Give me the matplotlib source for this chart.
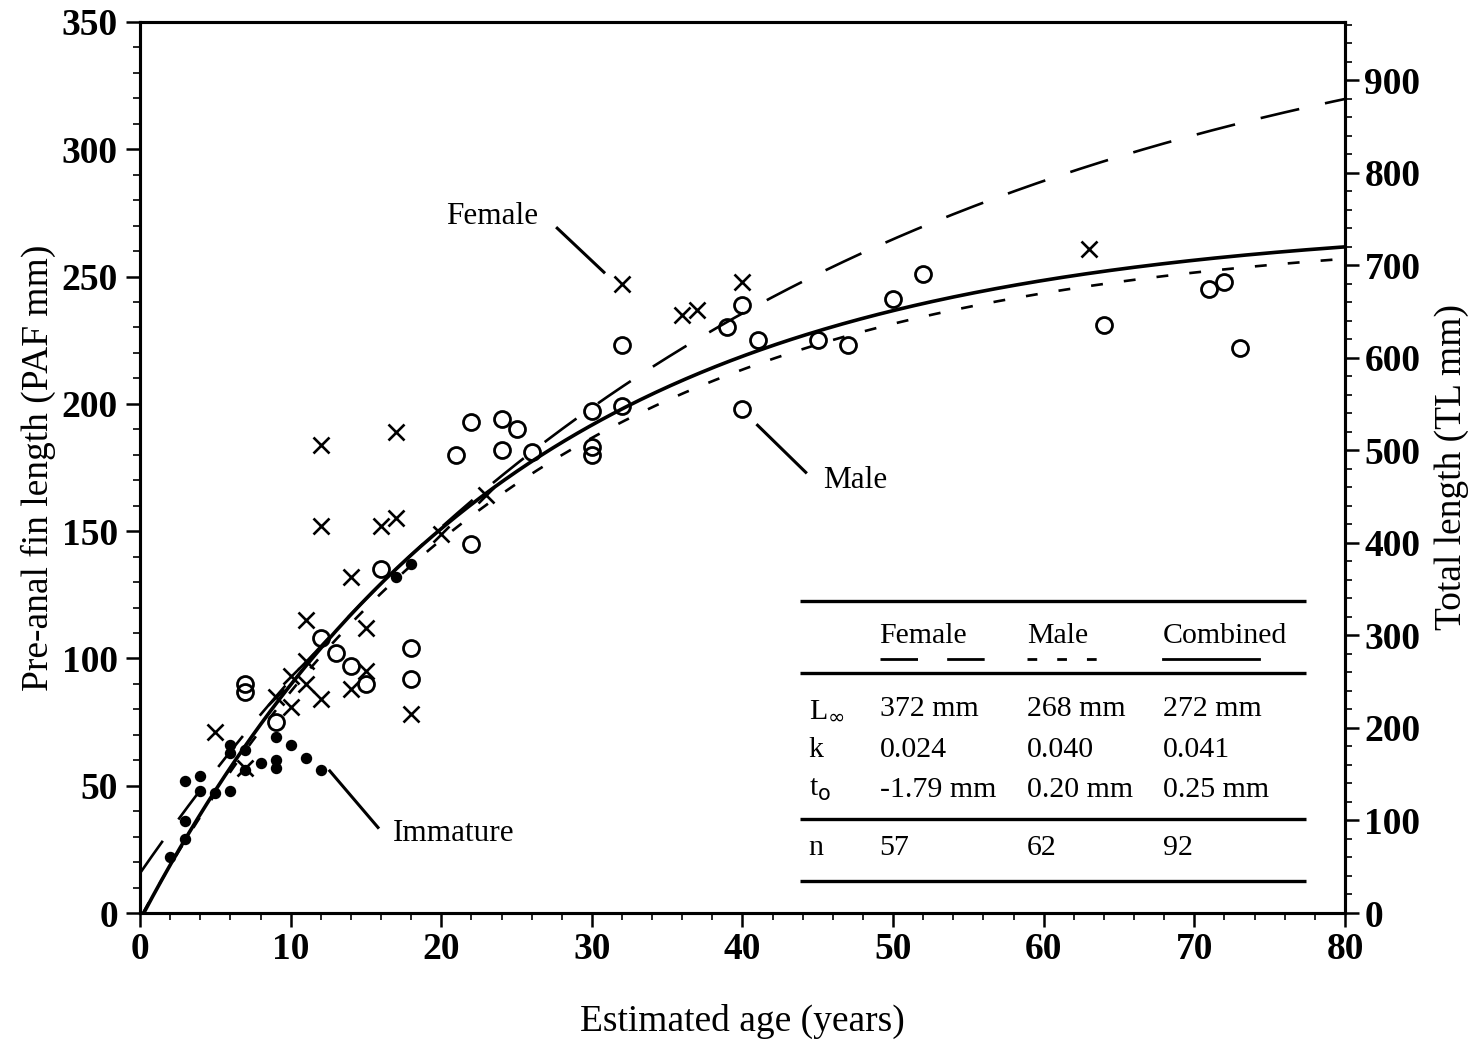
import numpy as np
import matplotlib
matplotlib.use("Agg")
import matplotlib.pyplot as plt
from matplotlib.ticker import MultipleLocator

plt.rcParams['font.family'] = ['Liberation Serif', 'DejaVu Serif']

# ---- data ----
female_age = [5, 7, 9, 10, 10, 11, 11, 11, 12, 12, 12, 14, 14, 15, 15, 16, 17, 17, 18, 20, 23, 32, 36, 37, 40, 63]
female_paf = [71, 57, 85, 93, 81, 99, 115, 90, 84, 184, 152, 132, 88, 112, 95, 152, 155, 189, 78, 149, 164, 247, 235, 237, 248, 261]

male_age = [7, 7, 9, 12, 13, 14, 15, 16, 18, 18, 21, 22, 22, 24, 24, 25, 26, 30, 30, 30, 32, 32,
            39, 40, 40, 41, 45, 47, 50, 52, 64, 71, 72, 73]
male_paf = [90, 87, 75, 108, 102, 97, 90, 135, 104, 92, 180, 193, 145, 194, 182, 190, 181, 197, 183, 180, 199, 223,
            230, 239, 198, 225, 225, 223, 241, 251, 231, 245, 248, 222]

imm_age = [2, 3, 3, 3, 4, 4, 5, 6, 6, 6, 7, 7, 8, 9, 9, 9, 10, 11, 12, 17, 18]
imm_paf = [22, 29, 36, 52, 54, 48, 47, 48, 66, 63, 64, 56, 59, 60, 57, 69, 66, 61, 56, 132, 137]

# von Bertalanffy parameters (from the table)
groups = ["Female", "Male", "Combined"]
L_inf = [372, 268, 272]
k_val = [0.024, 0.040, 0.041]
t0_val = [-1.79, 0.20, 0.25]
n_val = [57, 62, 92]
L_txt = ["372 mm", "268 mm", "272 mm"]
k_txt = ["0.024", "0.040", "0.041"]
t0_txt = ["-1.79 mm", "0.20 mm", "0.25 mm"]

TL_PER_PAF = 2.752

fig = plt.figure(figsize=(14.77, 10.42), dpi=100)
ax = fig.add_axes([0.0948, 0.1238, 0.8158, 0.8551])

lw = 1.9
styles = {
    "Female": dict(color='black', lw=lw, dashes=(15, 10)),
    "Male": dict(color='black', lw=lw, dashes=(4.5, 8)),
    "Combined": dict(color='black', lw=2.6, linestyle='-'),
}
for g, L, kk, t0 in zip(groups, L_inf, k_val, t0_val):
    t_start = max(0.0, t0)
    t = np.linspace(t_start, 80, 400)
    y = L * (1 - np.exp(-kk * (t - t0)))
    ax.plot(t, y, **styles[g], zorder=2)

ax.plot(female_age, female_paf, linestyle='none', marker='x', ms=11, mew=1.9, color='black', zorder=3)
ax.plot(male_age, male_paf, linestyle='none', marker='o', ms=11.5, mew=2.0, mfc='none', mec='black', zorder=3)
ax.plot(imm_age, imm_paf, linestyle='none', marker='o', ms=7.2, color='black', zorder=3)

tick_fs = 27
ax.set_xlim(0, 80)
ax.set_ylim(0, 350)
ax.xaxis.set_major_locator(MultipleLocator(10))
ax.xaxis.set_minor_locator(MultipleLocator(2))
ax.yaxis.set_major_locator(MultipleLocator(50))
ax.yaxis.set_minor_locator(MultipleLocator(10))
ax.tick_params(axis='both', which='major', direction='out', length=10, width=1.8, labelsize=tick_fs)
ax.tick_params(axis='y', which='major', pad=6)
ax.tick_params(axis='x', which='major', pad=4)
ax.tick_params(axis='both', which='minor', direction='out', length=5, width=1.2)
ax.tick_params(axis='x', which='both', top=False)
for lab in ax.get_xticklabels() + ax.get_yticklabels():
    lab.set_fontweight('bold')
for s in ax.spines.values():
    s.set_linewidth(2.2)

ax.set_xlabel("Estimated age (years)", fontsize=27, labelpad=26)
ax.set_ylabel("Pre-anal fin length (PAF mm)", fontsize=27, labelpad=4)

ax2 = ax.twinx()
ax2.set_ylim(0, 350 * TL_PER_PAF)
ax2.yaxis.set_major_locator(MultipleLocator(100))
ax2.yaxis.set_minor_locator(MultipleLocator(20))
ax2.tick_params(axis='y', which='major', direction='out', length=10, width=1.8, labelsize=tick_fs, pad=4)
ax2.tick_params(axis='y', which='minor', direction='out', length=5, width=1.2)
for lab in ax2.get_yticklabels():
    lab.set_fontweight('bold')
for s in ax2.spines.values():
    s.set_linewidth(2.2)
ax2.set_ylabel("Total length (TL mm)", fontsize=27, labelpad=10)

# annotations
fs_ann = 22.5
ax.text(23.4, 273.5, "Female", fontsize=fs_ann, ha='center', va='center')
ax.plot([27.7, 30.8], [269, 251.7], color='black', lw=2.2)
ax.text(47.5, 170, "Male", fontsize=fs_ann, ha='center', va='center')
ax.plot([41.0, 44.2], [191.6, 173.1], color='black', lw=2.2)
ax.text(20.8, 31.4, "Immature", fontsize=fs_ann, ha='center', va='center')
ax.plot([12.6, 15.8], [55.8, 33.6], color='black', lw=2.2)

# table
x0, x1 = 43.8, 77.4
for yy in [122.5, 94.3, 36.9, 12.6]:
    ax.plot([x0, x1], [yy, yy], color='black', lw=2.4, solid_capstyle='butt')
col_x = [49.1, 58.9, 67.9]
fs_t = 21.5
for cx, g in zip(col_x, groups):
    ax.text(cx, 108.8, g, fontsize=fs_t, ha='left', va='center')
# legend samples
ax.plot([49.1, 56.2], [99.8, 99.8], color='black', lw=2.0, dashes=(13.5, 10.5))
ax.plot([58.9, 64.0], [99.8, 99.8], color='black', lw=2.0, dashes=(3.5, 7.2))
ax.plot([67.9, 74.3], [99.8, 99.8], color='black', lw=2.0)

row_y = [80.1, 64.0, 48.3]
row_lab = ["L$_{\\infty}$", "k", "t$_{\\mathrm{o}}$"]
row_vals = [L_txt, k_txt, t0_txt]
for ry, rl, vals in zip(row_y, row_lab, row_vals):
    ax.text(44.4, ry, rl, fontsize=fs_t, ha='left', va='center')
    for cx, v in zip(col_x, vals):
        ax.text(cx, ry, v, fontsize=fs_t, ha='left', va='center')
ax.text(44.4, 25.5, "n", fontsize=fs_t, ha='left', va='center')
for cx, v in zip(col_x, n_val):
    ax.text(cx, 25.5, str(v), fontsize=fs_t, ha='left', va='center')

fig.savefig("out.png", dpi=100)
